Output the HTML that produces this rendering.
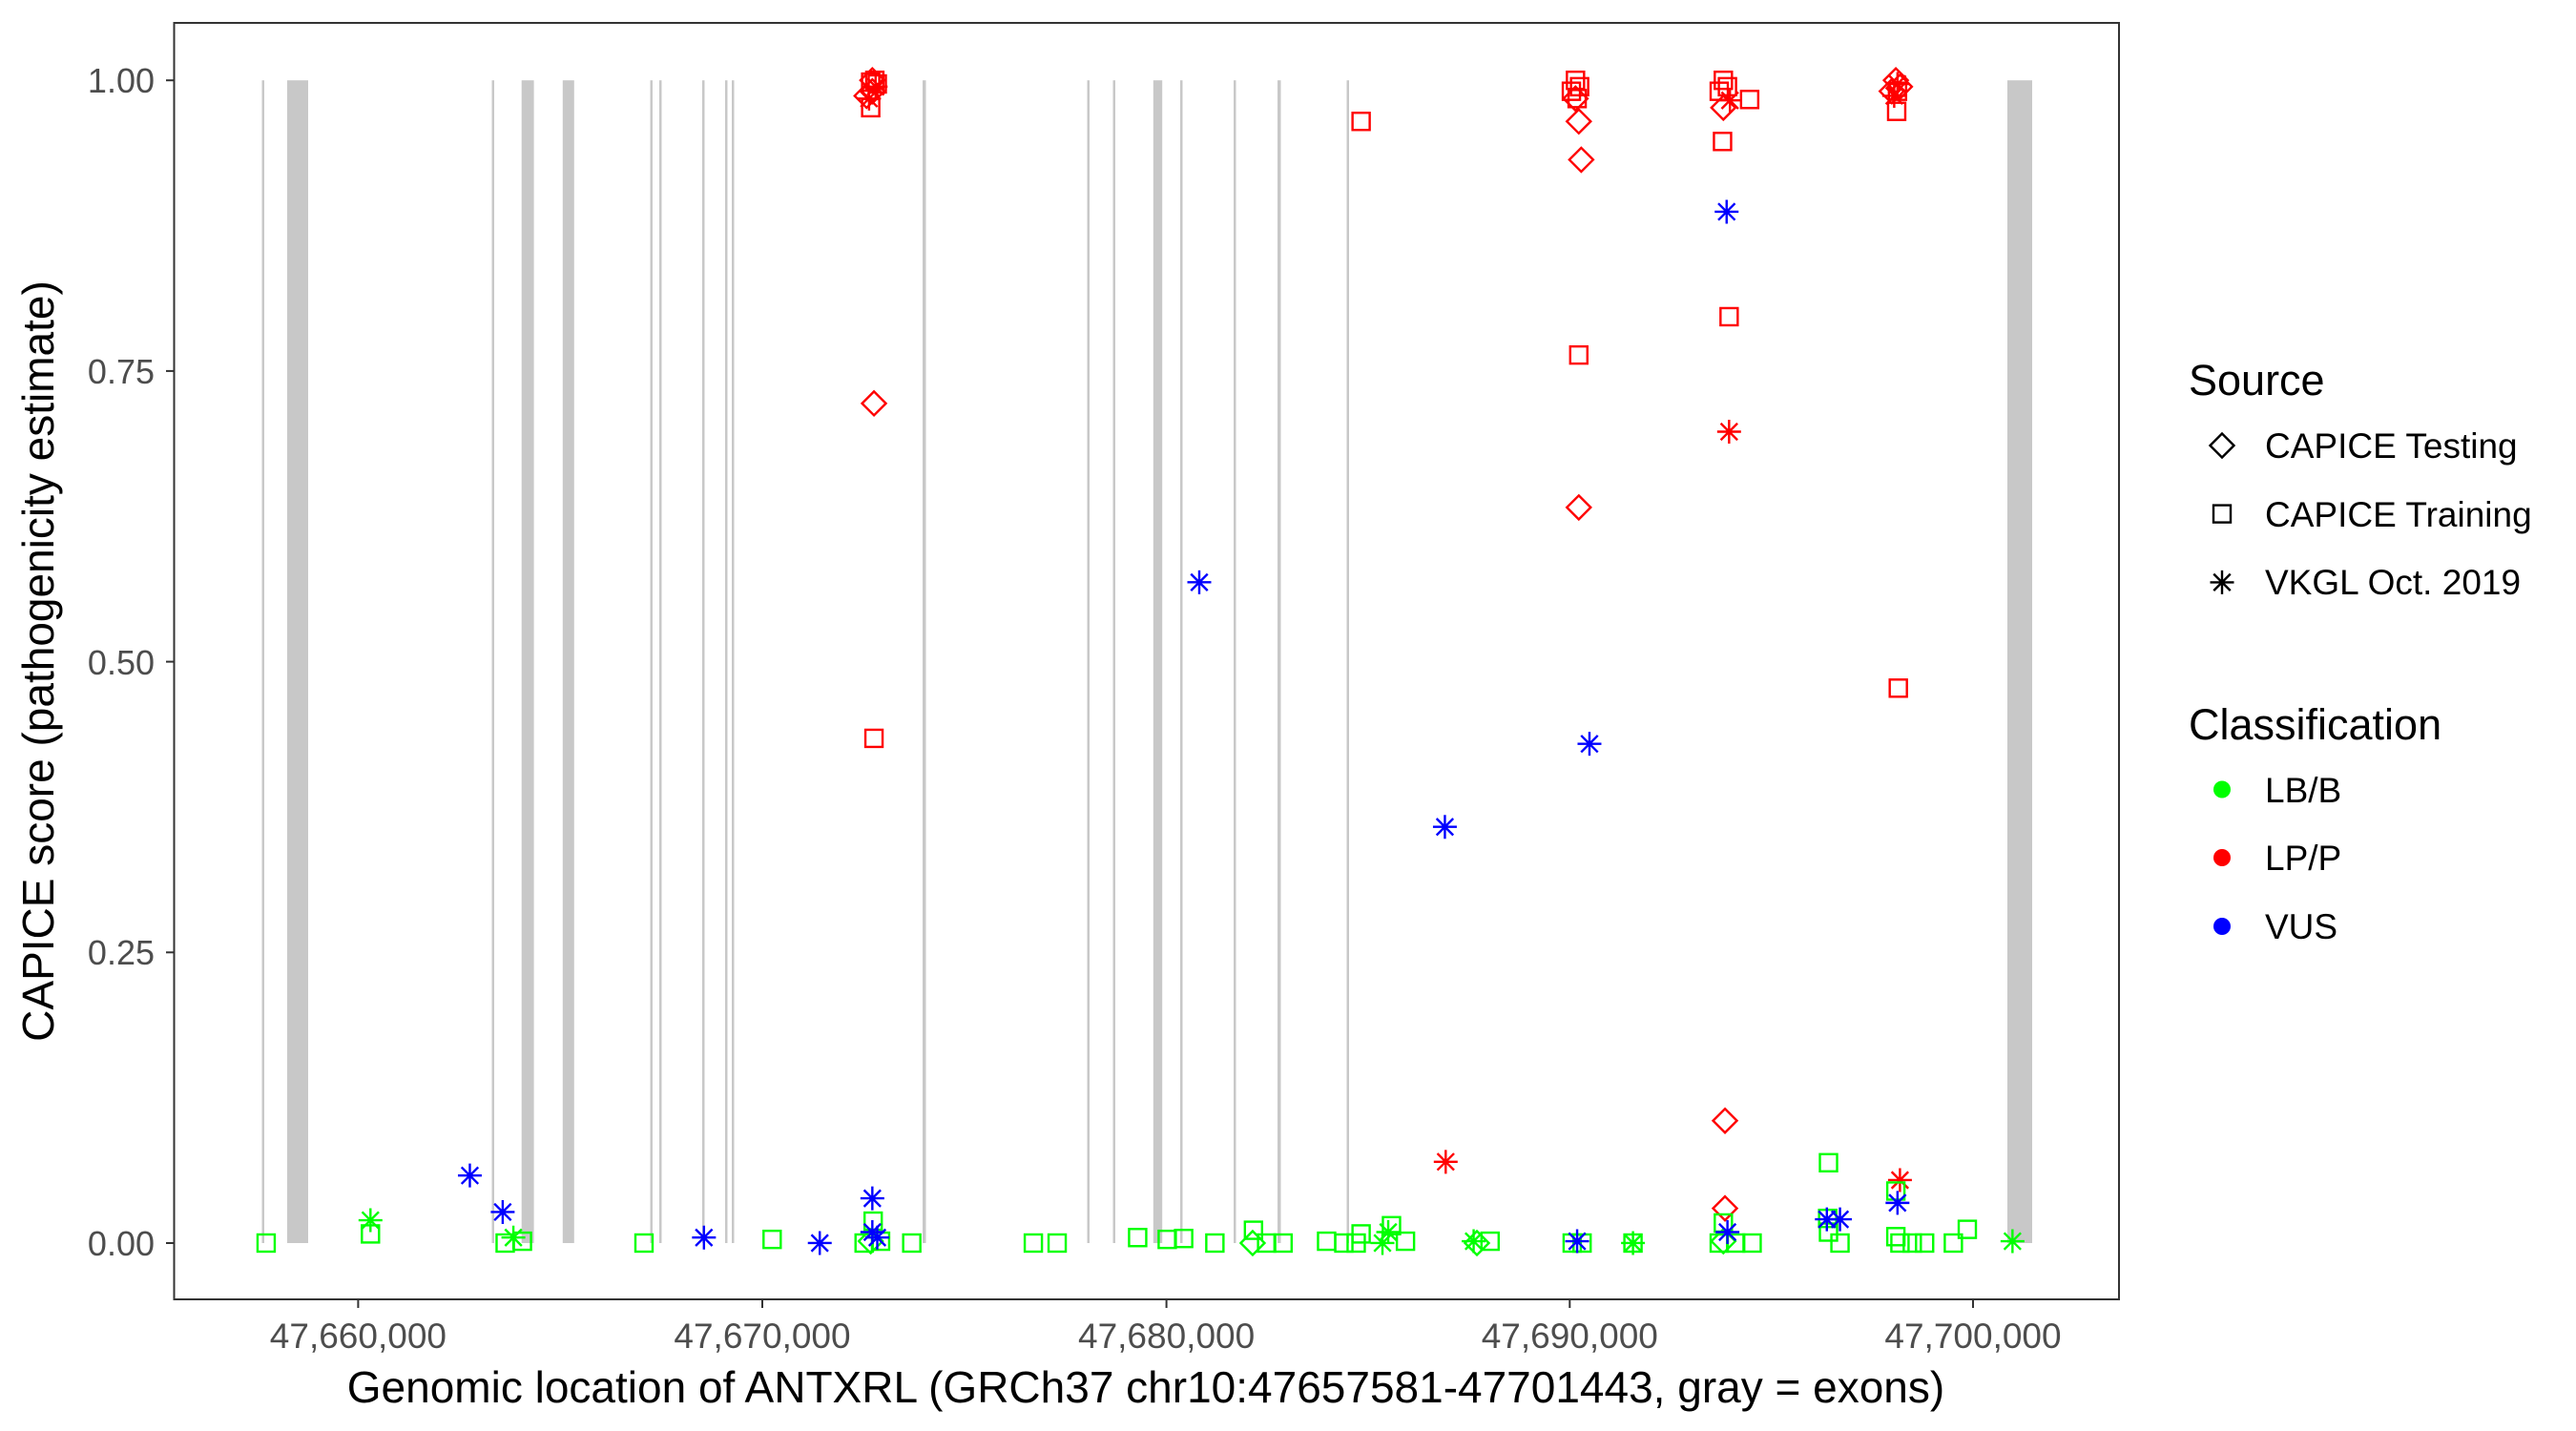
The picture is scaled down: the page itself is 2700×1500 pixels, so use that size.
<!DOCTYPE html>
<html><head><meta charset="utf-8"><style>
html,body{margin:0;padding:0;background:#fff;}
svg{display:block;font-family:"Liberation Sans",Arial,sans-serif;}
</style></head><body>
<svg id="s" width="2700" height="1500" viewBox="0 0 2700 1500" xmlns="http://www.w3.org/2000/svg">
<rect width="2700" height="1500" fill="#fff"/>
<g id="exons" fill="#c8c8c8"></g>
<g id="pts" fill="none" stroke-width="2.4"></g>
<rect x="182.5" y="24" width="2038.5" height="1338" fill="none" stroke="#333" stroke-width="2"/>
<g stroke="#333" stroke-width="2">
<line x1="174" x2="182.5" y1="84.2" y2="84.2"/><line x1="174" x2="182.5" y1="388.9" y2="388.9"/>
<line x1="174" x2="182.5" y1="693.6" y2="693.6"/><line x1="174" x2="182.5" y1="998.3" y2="998.3"/>
<line x1="174" x2="182.5" y1="1303" y2="1303"/>
<line x1="375.4" x2="375.4" y1="1362" y2="1371"/><line x1="799" x2="799" y1="1362" y2="1371"/>
<line x1="1222.6" x2="1222.6" y1="1362" y2="1371"/><line x1="1645.3" x2="1645.3" y1="1362" y2="1371"/>
<line x1="2068" x2="2068" y1="1362" y2="1371"/>
</g>
<g fill="#4d4d4d" font-size="36" text-anchor="end">
<text x="162" y="97">1.00</text><text x="162" y="402">0.75</text><text x="162" y="707">0.50</text>
<text x="162" y="1011">0.25</text><text x="162" y="1316">0.00</text>
</g>
<g fill="#4d4d4d" font-size="37" text-anchor="middle">
<text x="375.4" y="1413">47,660,000</text><text x="799" y="1413">47,670,000</text>
<text x="1222.6" y="1413">47,680,000</text><text x="1645.3" y="1413">47,690,000</text>
<text x="2068" y="1413">47,700,000</text>
</g>
<text x="1201" y="1470" font-size="46" text-anchor="middle" fill="#000">Genomic location of ANTXRL (GRCh37 chr10:47657581-47701443, gray = exons)</text>
<text transform="translate(56,693) rotate(-90)" font-size="46" text-anchor="middle" fill="#000">CAPICE score (pathogenicity estimate)</text>
<text x="2294" y="414" font-size="45" fill="#000">Source</text>
<text x="2374" y="480" font-size="37" fill="#000">CAPICE Testing</text>
<text x="2374" y="552" font-size="37" fill="#000">CAPICE Training</text>
<text x="2374" y="623" font-size="37" fill="#000">VKGL Oct. 2019</text>
<text x="2294" y="775" font-size="45" fill="#000">Classification</text>
<text x="2374" y="841" font-size="37" fill="#000">LB/B</text>
<text x="2374" y="912" font-size="37" fill="#000">LP/P</text>
<text x="2374" y="984" font-size="37" fill="#000">VUS</text>
<g id="leg" fill="none" stroke="#000" stroke-width="2.4"></g>
<circle cx="2329" cy="827.5" r="9" fill="#00ff00"/>
<circle cx="2329" cy="899" r="9" fill="#ff0000"/>
<circle cx="2329" cy="971" r="9" fill="#0000ff"/>
</svg>
<script>
var NS="http://www.w3.org/2000/svg";
function el(p,t,a){var e=document.createElementNS(NS,t);for(var k in a)e.setAttribute(k,a[k]);p.appendChild(e);return e;}
var ex=document.getElementById("exons");
var bands=[[274.5,277],[301,323],[515.5,518],[546.7,559.6],[589.8,601.8],[681.5,684],[691,693.5],[736,738.5],[760,762.5],[767,769.5],[967,970.5],[1139.5,1142],[1166.5,1169],[1208.8,1218.2],[1237,1239.5],[1293,1295.5],[1339,1342.5],[1411.5,1414],[2104,2130]];
bands.forEach(function(b){el(ex,"rect",{x:b[0],y:84.2,width:b[1]-b[0],height:1218.8});});
var C={g:"#00ff00",r:"#ff0000",b:"#0000ff"};
function mark(p,x,y,s,c){
 if(s=="q")el(p,"rect",{x:x-9,y:y-9,width:18,height:18,stroke:c});
 else if(s=="d")el(p,"path",{d:"M"+x+" "+(y-12.5)+"L"+(x+12.5)+" "+y+"L"+x+" "+(y+12.5)+"L"+(x-12.5)+" "+y+"Z",stroke:c});
 else{var r=12.5,d="M"+(x-r)+" "+y+"H"+(x+r)+"M"+x+" "+(y-r)+"V"+(y+r)+"M"+(x-r*.7)+" "+(y-r*.7)+"L"+(x+r*.7)+" "+(y+r*.7)+"M"+(x-r*.7)+" "+(y+r*.7)+"L"+(x+r*.7)+" "+(y-r*.7);el(p,"path",{d:d,stroke:c});}
}
var k=1.1615,ky=1.0453;
var p1=[[324,1362,"q","g"],[451,1337,"s","g"],[451,1352,"q","g"],[572,1288,"s","b"],[612,1328,"s","b"],[615,1362,"q","g"],[625,1356,"s","g"],[636,1360,"q","g"],[784,1362,"q","g"],[857,1356,"s","b"],[940,1358,"q","g"],[998,1362,"s","b"],
[1060,90,"q","r"],[1065,88,"q","r"],[1068,92,"q","r"],[1060,118,"q","r"],[1055,105,"d","r"],[1062,100,"d","r"],[1066,95,"s","r"],[1058,108,"s","r"],[1062,88,"d","r"],
[1064,442,"d","r"],[1064,809,"q","r"],[1062,1313,"s","b"],[1063,1338,"q","g"],[1052,1362,"q","g"],[1072,1360,"q","g"],[1060,1360,"d","g"],[1062,1350,"s","b"],[1068,1356,"s","b"],
[1110,1362,"q","g"],[1258,1362,"q","g"],[1287,1362,"q","g"],[1385,1356,"q","g"],[1421,1358,"q","g"],[1441,1357,"q","g"],[1479,1362,"q","g"],[1526,1348,"q","g"],[1542,1362,"q","g"],[1562,1362,"q","g"],[1525,1362,"d","g"],[1460,638,"s","b"]];
var p2=[[47,1360,"q","g"],[68,1362,"q","g"],[83,1362,"q","g"],[89,1352,"q","g"],[126,1343,"q","g"],[143,1360,"q","g"],[115,1362,"s","g"],[122,1350,"s","g"],[89,133,"q","r"],
[226,1360,"s","g"],[246,1360,"q","g"],[230,1362,"d","g"],[191,906,"s","b"],[192,1273,"s","r"],
[350,88,"q","r"],[355,95,"q","r"],[345,100,"q","r"],[352,108,"q","r"],[350,108,"d","r"],[354,133,"d","r"],[357,175,"d","r"],[354,389,"q","r"],[354,556,"d","r"],[367,815,"s","b"],[346,1362,"q","g"],[358,1362,"q","g"],[352,1360,"s","b"],
[420,1362,"q","g"],[420,1362,"s","g"],
[530,88,"q","r"],[535,95,"q","r"],[525,100,"q","r"],[562,109,"q","r"],[530,118,"d","r"],[538,110,"s","r"],[529,155,"q","r"],[534,232,"s","b"],[537,347,"q","r"],[537,473,"s","r"],[532,1228,"d","r"],[532,1324,"d","r"],[530,1340,"q","g"],[525,1362,"q","g"],[545,1362,"q","g"],[565,1362,"q","g"],[530,1360,"d","g"],[535,1350,"s","b"],
[658,1274,"q","g"],[657,1335,"q","g"],[672,1362,"q","g"],[658,1350,"q","g"],[656,1336,"s","b"],[672,1336,"s","b"],
[740,88,"d","r"],[745,95,"d","r"],[735,100,"d","r"],[741,122,"q","r"],[742,100,"q","r"],[742,92,"s","r"],[738,105,"s","r"],[743,754,"q","r"],[745,1293,"s","r"],[740,1305,"q","g"],[740,1355,"q","g"],[745,1362,"q","g"],[760,1362,"q","g"],[775,1362,"q","g"],[810,1362,"q","g"],[827,1347,"q","g"],[882,1360,"s","g"],[742,1318,"s","b"]];
var pg=document.getElementById("pts");
p1.forEach(function(a){mark(pg,a[0]/k,a[1]/ky,a[2],C[a[3]]);});
p2.forEach(function(a){mark(pg,1350+a[0]/k,a[1]/ky,a[2],C[a[3]]);});
var lg=document.getElementById("leg");
mark(lg,2329,467,"d","#000");mark(lg,2329,538.6,"q","#000");mark(lg,2329,610.4,"s","#000");
</script>
</body></html>
